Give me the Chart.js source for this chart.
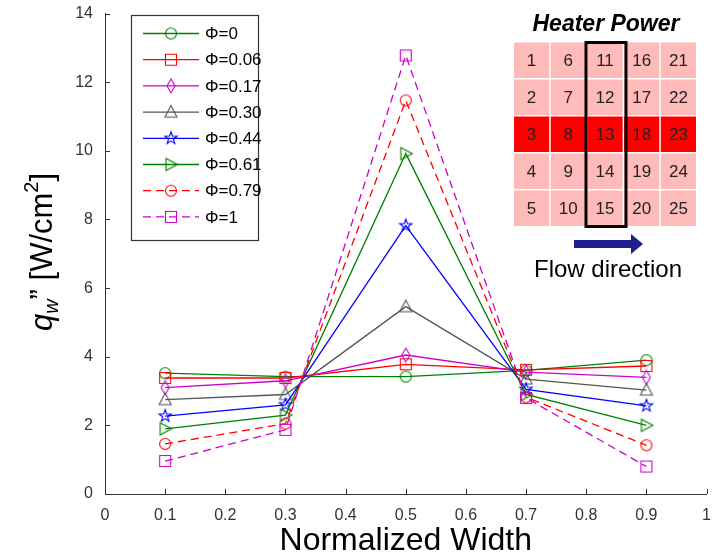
<!DOCTYPE html>
<html>
<head>
<meta charset="utf-8">
<script src="https://cdn.jsdelivr.net/npm/chart.js@4.4.1/dist/chart.umd.min.js"></script>
<style>
  html, body { margin: 0; padding: 0; background: #fff; }
  canvas { display: block; }
</style>
</head>
<body>
<canvas id="chart" width="715" height="560"></canvas>
<script>
// values
var widths = [0.1, 0.3, 0.5, 0.7, 0.9];
var xTicks = [0, 0.1, 0.2, 0.3, 0.4, 0.5, 0.6, 0.7, 0.8, 0.9, 1];
var yTicks = [0, 2, 4, 6, 8, 10, 12, 14];

var phiLabels = ["\u03A6=0", "\u03A6=0.06", "\u03A6=0.17", "\u03A6=0.30", "\u03A6=0.44", "\u03A6=0.61", "\u03A6=0.79", "\u03A6=1"];
var phi0   = [3.52, 3.42, 3.42, 3.60, 3.90];
var phi006 = [3.38, 3.38, 3.78, 3.62, 3.73];
var phi017 = [3.10, 3.30, 4.05, 3.55, 3.40];
var phi030 = [2.75, 2.90, 5.46, 3.35, 3.03];
var phi044 = [2.27, 2.60, 7.82, 3.05, 2.57];
var phi061 = [1.90, 2.30, 9.92, 2.90, 2.00];
var phi079 = [1.46, 2.05, 11.47, 2.82, 1.42];
var phi1   = [0.96, 1.87, 12.78, 2.80, 0.80];

// heater grid numbers (column-major, as in the inset)
var heaterCells = [
  [1, 6, 11, 16, 21],
  [2, 7, 12, 17, 22],
  [3, 8, 13, 18, 23],
  [4, 9, 14, 19, 24],
  [5, 10, 15, 20, 25]
];

var FONT = "'Liberation Sans', Arial, Helvetica, sans-serif";

function markerCanvas(shape, color) {
  var c = document.createElement("canvas");
  c.width = 18; c.height = 18;
  var g = c.getContext("2d"), m = 9;
  g.strokeStyle = color;
  g.lineWidth = 1.1;
  g.beginPath();
  if (shape === "circle") {
    g.arc(m, m, 5.5, 0, 2 * Math.PI);
  } else if (shape === "square") {
    g.rect(m - 5.5, m - 5.5, 11, 11);
  } else if (shape === "diamond") {
    g.moveTo(m, m - 7); g.lineTo(m + 4, m); g.lineTo(m, m + 7); g.lineTo(m - 4, m); g.closePath();
  } else if (shape === "triUp") {
    g.moveTo(m, m - 6.5); g.lineTo(m + 6, m + 5); g.lineTo(m - 6, m + 5); g.closePath();
  } else if (shape === "triRight") {
    g.moveTo(m + 6.5, m); g.lineTo(m - 5, m - 6); g.lineTo(m - 5, m + 6); g.closePath();
  } else if (shape === "star") {
    for (var i = 0; i < 10; i++) {
      var r = i % 2 === 0 ? 6.5 : 2.6;
      var a = -Math.PI / 2 + i * Math.PI / 5;
      var px = m + r * Math.cos(a), py = m + r * Math.sin(a);
      if (i === 0) g.moveTo(px, py); else g.lineTo(px, py);
    }
    g.closePath();
  }
  g.stroke();
  return c;
}

var series = [phi0, phi006, phi017, phi030, phi044, phi061, phi079, phi1];
var colors = ["#008000", "#ff0000", "#cc00cc", "#555555", "#0000ff", "#008000", "#ff0000", "#cc00cc"];
var shapes = ["circle", "square", "diamond", "triUp", "star", "triRight", "circle", "square"];
var dashes = [[], [], [], [], [], [], [8, 5], [8, 5]];

var datasets = series.map(function (vals, i) {
  return {
    label: phiLabels[i],
    data: vals.map(function (v, j) { return { x: widths[j], y: v }; }),
    borderColor: colors[i],
    borderWidth: 1.3,
    borderDash: dashes[i],
    pointStyle: markerCanvas(shapes[i], colors[i]),
    pointRadius: 6,
    fill: false,
    tension: 0,
    order: series.length - 1 - i
  };
});

var extras = {
  id: "extras",
  afterDraw: function (chart) {
    var ctx = chart.ctx, a = chart.chartArea;
    var sx = chart.scales.x, sy = chart.scales.y;
    ctx.save();

    // inward tick marks
    ctx.strokeStyle = "#333";
    ctx.lineWidth = 1;
    ctx.beginPath();
    xTicks.forEach(function (v) {
      var p = Math.round(sx.getPixelForValue(v)) + 0.5;
      ctx.moveTo(p, a.bottom); ctx.lineTo(p, a.bottom - 5);
    });
    yTicks.forEach(function (v) {
      var p = Math.round(sy.getPixelForValue(v)) + 0.5;
      ctx.moveTo(a.left, p); ctx.lineTo(a.left + 5, p);
    });
    ctx.stroke();

    // x title
    ctx.fillStyle = "#000";
    ctx.font = "32px " + FONT;
    ctx.textAlign = "center";
    ctx.textBaseline = "alphabetic";
    ctx.fillText("Normalized Width", (a.left + a.right) / 2, 550);

    // y title: q_w" [W/cm^2]
    var parts = [
      { t: "q", f: "italic 31px " + FONT, dy: 0 },
      { t: "w", f: "italic 20px " + FONT, dy: 6 },
      { t: "\u201D [W/cm", f: "31px " + FONT, dy: 0 },
      { t: "2", f: "20px " + FONT, dy: -14 },
      { t: "]", f: "31px " + FONT, dy: 0 }
    ];
    var total = 0;
    parts.forEach(function (p) { ctx.font = p.f; p.w = ctx.measureText(p.t).width; total += p.w; });
    ctx.translate(52, 252);
    ctx.rotate(-Math.PI / 2);
    ctx.textAlign = "left";
    var cx = -total / 2;
    parts.forEach(function (p) {
      ctx.font = p.f;
      ctx.fillText(p.t, cx, p.dy);
      cx += p.w;
    });
    ctx.setTransform(1, 0, 0, 1, 0, 0);

    // legend box
    var lx = 131.5, ly = 15.5, lw = 127, lh = 225;
    ctx.fillStyle = "#fff";
    ctx.fillRect(lx, ly, lw, lh);
    ctx.strokeStyle = "#333";
    ctx.lineWidth = 1.2;
    ctx.strokeRect(lx, ly, lw, lh);
    ctx.font = "17px " + FONT;
    ctx.textAlign = "left";
    ctx.textBaseline = "middle";
    chart.data.datasets.forEach(function (ds, i) {
      var y = 33.5 + i * 26.2;
      ctx.strokeStyle = ds.borderColor;
      ctx.lineWidth = 1.3;
      ctx.setLineDash(ds.borderDash);
      ctx.beginPath();
      ctx.moveTo(143, y); ctx.lineTo(199, y);
      ctx.stroke();
      ctx.setLineDash([]);
      ctx.fillStyle = "#fff";
      ctx.drawImage(ds.pointStyle, 171 - 9, y - 9);
      ctx.fillStyle = "#000";
      ctx.fillText(ds.label, 205, y + 1);
    });

    // heater power inset
    ctx.fillStyle = "#000";
    ctx.font = "italic bold 23px " + FONT;
    ctx.textAlign = "center";
    ctx.textBaseline = "alphabetic";
    ctx.fillText("Heater Power", 606, 31);

    var gx = 514, gy = 42.5, cw = 36.7, ch = 37, gap = 1.5;
    ctx.font = "17px " + FONT;
    ctx.textBaseline = "middle";
    heaterCells.forEach(function (row, r) {
      row.forEach(function (n, c) {
        var x = gx + c * cw, y = gy + r * ch;
        ctx.fillStyle = r === 2 ? "#ff0000" : "#ffbaba";
        ctx.fillRect(x, y, cw - gap, ch - gap);
        ctx.fillStyle = "#222";
        ctx.fillText(String(n), x + (cw - gap) / 2, y + (ch - gap) / 2 + 1);
      });
    });
    ctx.strokeStyle = "#000";
    ctx.lineWidth = 3;
    ctx.strokeRect(586, 42.5, 40, 184);

    // flow arrow
    ctx.fillStyle = "#1f1f8f";
    ctx.beginPath();
    ctx.moveTo(574, 240); ctx.lineTo(631, 240); ctx.lineTo(631, 234);
    ctx.lineTo(643, 244); ctx.lineTo(631, 254); ctx.lineTo(631, 248);
    ctx.lineTo(574, 248); ctx.closePath();
    ctx.fill();

    ctx.fillStyle = "#000";
    ctx.font = "24px " + FONT;
    ctx.textBaseline = "alphabetic";
    ctx.fillText("Flow direction", 608, 277);
    ctx.restore();
  }
};

new Chart(document.getElementById("chart"), {
  type: "line",
  data: { datasets: datasets },
  options: {
    responsive: false,
    animation: false,
    events: [],
    layout: { padding: { top: 13, right: 8, left: 0, bottom: 0 } },
    plugins: { legend: { display: false }, tooltip: { enabled: false } },
    scales: {
      x: {
        type: "linear",
        min: 0, max: 1,
        afterBuildTicks: function (s) { s.ticks = xTicks.map(function (v) { return { value: v }; }); },
        afterFit: function (s) { s.height = 66; },
        grid: { display: false },
        border: { display: true, color: "#333", width: 1 },
        ticks: {
          color: "#333",
          font: { family: FONT, size: 16 },
          padding: 4,
          maxRotation: 0,
          autoSkip: false,
          callback: function (v) { return String(v); }
        }
      },
      y: {
        min: 0, max: 14,
        afterBuildTicks: function (s) { s.ticks = yTicks.map(function (v) { return { value: v }; }); },
        afterFit: function (s) { s.width = 105; },
        grid: { display: false },
        border: { display: true, color: "#333", width: 1 },
        ticks: {
          color: "#333",
          font: { family: FONT, size: 16 },
          padding: 4,
          callback: function (v) { return String(v); }
        }
      }
    }
  },
  plugins: [extras]
});
</script>
</body>
</html>
